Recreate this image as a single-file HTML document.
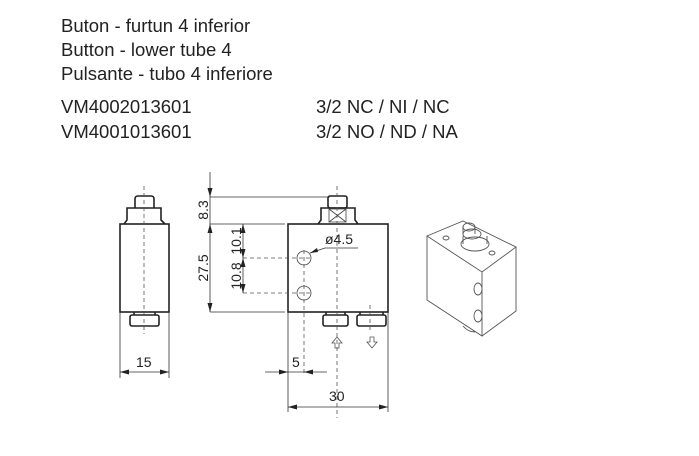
<!DOCTYPE html>
<html><head><meta charset="utf-8"><style>
body{margin:0;background:#fff;}
svg{display:block}
text{font-family:"Liberation Sans",Arial,sans-serif;fill:#222}
</style></head><body>
<svg width="699" height="456" viewBox="0 0 699 456" xmlns="http://www.w3.org/2000/svg">
<g font-size="18.5">
<text x="61" y="32">Buton - furtun 4 inferior</text>
<text x="61" y="56">Button - lower tube 4</text>
<text x="61" y="80">Pulsante - tubo 4 inferiore</text>
<text x="61" y="113">VM4002013601</text>
<text x="61" y="138">VM4001013601</text>
<text x="316" y="113">3/2 NC / NI  / NC</text>
<text x="316" y="138">3/2 NO / ND / NA</text>
</g>
<g fill="none" stroke="#222" stroke-width="1.6">
<rect x="120" y="224" width="49" height="88"/>
<path d="M124 224 L127 220 L127 208 L161 208 L161 220 L165 224"/>
<path d="M135 208 L135 199 Q135 196 138 196 L151 196 Q154 196 154 199 L154 208"/>
<path d="M134 312 L134 315 M155 312 L155 315"/>
<rect x="130" y="315" width="29" height="11" rx="2"/>
<rect x="288" y="224" width="100" height="88"/>
<path d="M318 224 L321 220 L321 208 L355 208 L355 220 L358 224"/>
<rect x="328" y="196" width="19" height="12" rx="2"/>
<rect x="323" y="315" width="25" height="11" rx="2"/>
<rect x="357" y="315" width="29" height="11" rx="2"/>
<path d="M326 312 v3 M345 312 v3 M360 312 v3 M383 312 v3"/>
</g>
<g fill="none" stroke="#444" stroke-width="0.8">
<path d="M329 209 L346 222 M346 209 L329 222 M329 209 h17 v13 h-17 z"/>
<circle cx="304" cy="258" r="7"/>
<circle cx="304" cy="293" r="7"/>
</g>
<g stroke="#555" stroke-width="0.8" stroke-dasharray="4,3" fill="none">
<path d="M144 186 V334"/>
<path d="M337 186 V418"/>
<path d="M304 250 V375"/>
<path d="M370 305 V330"/>
<path d="M243 258 H312 M243 293 H312"/>
</g>
<g stroke="#333" stroke-width="0.8" fill="none">
<path d="M210 172 V312 M210 197 H330 M210 224 H285 M210 312 H285"/>
<path d="M243 224 V293"/>
<path d="M120 312 V378 M169 312 V378 M120 372 H169"/>
<path d="M288 312 V412 M388 312 V412 M288 407 H388"/>
<path d="M265 372 H327"/>
<path d="M310 253 L325 248 H358"/>
</g>
<g fill="#222">
<path d="M210 197 l-2.5 -9 h5z M210 224 l-2.5 9 h5z M210 312 l-2.5 -9 h5z"/>
<path d="M243 224 l-2.5 9 h5z M243 258 l-2.5 -9 h5z M243 258 l-2.5 9 h5z M243 293 l-2.5 -9 h5z"/>
<path d="M120 372 l9 -2.5 v5z M169 372 l-9 -2.5 v5z"/>
<path d="M288 407 l9 -2.5 v5z M388 407 l-9 -2.5 v5z"/>
<path d="M288 372 l-9 -2.5 v5z M304 372 l9 -2.5 v5z"/>
<path d="M310 253 l7 -5 l1 4z"/>
</g>
<g fill="none" stroke="#555" stroke-width="0.8">
<path d="M337 337 l-5 6 h3 v5 h4 v-5 h3 z"/>
<path d="M372 348 l-5 -6 h3 v-5 h4 v5 h3 z"/>
</g>
<g font-size="14">
<text x="136" y="367">15</text>
<text x="292" y="367">5</text>
<text x="329" y="401">30</text>
<text x="325" y="244">ø4.5</text>
<text transform="translate(208,210) rotate(-90)" text-anchor="middle">8.3</text>
<text transform="translate(208,268) rotate(-90)" text-anchor="middle">27.5</text>
<text transform="translate(241,241) rotate(-90)" text-anchor="middle">10.1</text>
<text transform="translate(241,276) rotate(-90)" text-anchor="middle">10.8</text>
</g>
<g fill="none" stroke="#555" stroke-width="0.9">
<path d="M427 236 L463 221 L516 247 L482 272 Z"/>
<path d="M427 236 V300 L482 336 V272"/>
<path d="M482 336 L516 311 V247"/>
<ellipse cx="475" cy="244" rx="14" ry="7"/>
<ellipse cx="472" cy="234" rx="9" ry="5"/>
<path d="M463 244 V236 M487 244 V236"/>
<ellipse cx="469" cy="227" rx="6" ry="4"/>
<path d="M463 234 V227 M475 234 V227"/>
<ellipse cx="446" cy="238" rx="3" ry="2"/>
<ellipse cx="492" cy="253" rx="3" ry="2"/>
<ellipse cx="478" cy="289" rx="4" ry="6"/>
<ellipse cx="478" cy="316" rx="4" ry="6"/>
<path d="M463 326 q5 6 12 6"/>
</g>
</svg>
</body></html>
